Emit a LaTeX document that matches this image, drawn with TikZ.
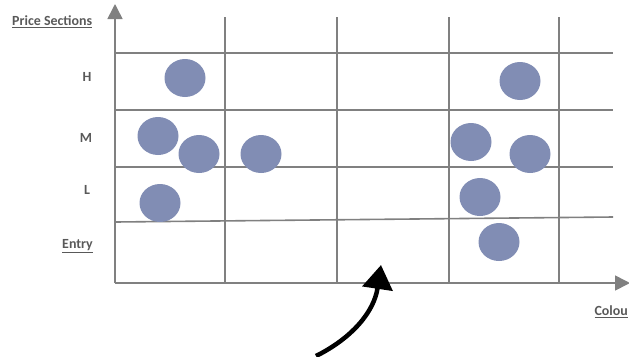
\documentclass[tikz,border=0pt]{standalone}
\usepackage{fontspec}
\setmainfont{Carlito}
\usetikzlibrary{arrows.meta,shapes.geometric}
\definecolor{gridgray}{HTML}{808080}
\definecolor{dotblue}{HTML}{818DB4}
\definecolor{txtgray}{HTML}{595959}
\begin{document}
\begin{tikzpicture}[x=1bp,y=-1bp,
  gridline/.style={draw=gridgray,line width=1.6bp},
  axis/.style={draw=gridgray,line width=1.6bp,-{Triangle[width=15bp,length=15bp]}},
  dot/.style={ellipse,fill=dotblue,minimum width=41bp,minimum height=38bp,inner sep=0pt},
  lbl/.style={text=txtgray,font=\fontsize{14}{16}\selectfont\bfseries,inner sep=0pt}]
\useasboundingbox (0,0) rectangle (629,356);
\clip (0,0) rectangle (629,356);
% grid coordinates
\coordinate (O) at (115,283);
\coordinate (ytop) at (115,4);
\coordinate (xend) at (630,283);
\foreach \x/\n in {225/a,337/b,449/c,559/d}{
  \coordinate (v\n t) at (\x,17);
  \coordinate (v\n b) at (\x,283);
  \draw[gridline] (v\n t) -- (v\n b);
}
\foreach \y/\n in {53/h,110/m,167/l}{
  \coordinate (h\n l) at (115,\y);
  \coordinate (h\n r) at (613,\y);
  \draw[gridline] (h\n l) -- (h\n r);
}
\coordinate (hel) at (115,222);
\coordinate (her) at (613,217);
\draw[gridline] (hel) -- (her);
\draw[axis] (O) -- (ytop);
\draw[axis] (O) -- (xend);
% dots
\node[dot] (d1) at (185,78) {};
\node[dot] (d2) at (158,136) {};
\node[dot] (d3) at (199,154) {};
\node[dot] (d4) at (261,154) {};
\node[dot] (d5) at (160,203) {};
\node[dot] (d6) at (520,81) {};
\node[dot] (d7) at (471,142) {};
\node[dot] (d8) at (530,154) {};
\node[dot] (d9) at (480,197) {};
\node[dot] (d10) at (499,242) {};
% labels
\node[lbl,anchor=west] (ps) at (12,22) {\underline{Price Sections}};
\node[lbl] (H) at (87,77) {H};
\node[lbl] (M) at (86,138) {M};
\node[lbl] (L) at (87,190) {L};
\node[lbl,anchor=west] (en) at (62,246) {\underline{Entry}};
\node[lbl,anchor=east] (col) at (628,312) {\underline{Colou}};
% curved arrow
\coordinate (cs) at (316,356);
\coordinate (ce) at (381,265);
\draw[line width=4.5bp,-{Triangle[width=30bp,length=24bp]}] (cs) .. controls (352,338) and (374,312) .. (ce);
\end{tikzpicture}
\end{document}
